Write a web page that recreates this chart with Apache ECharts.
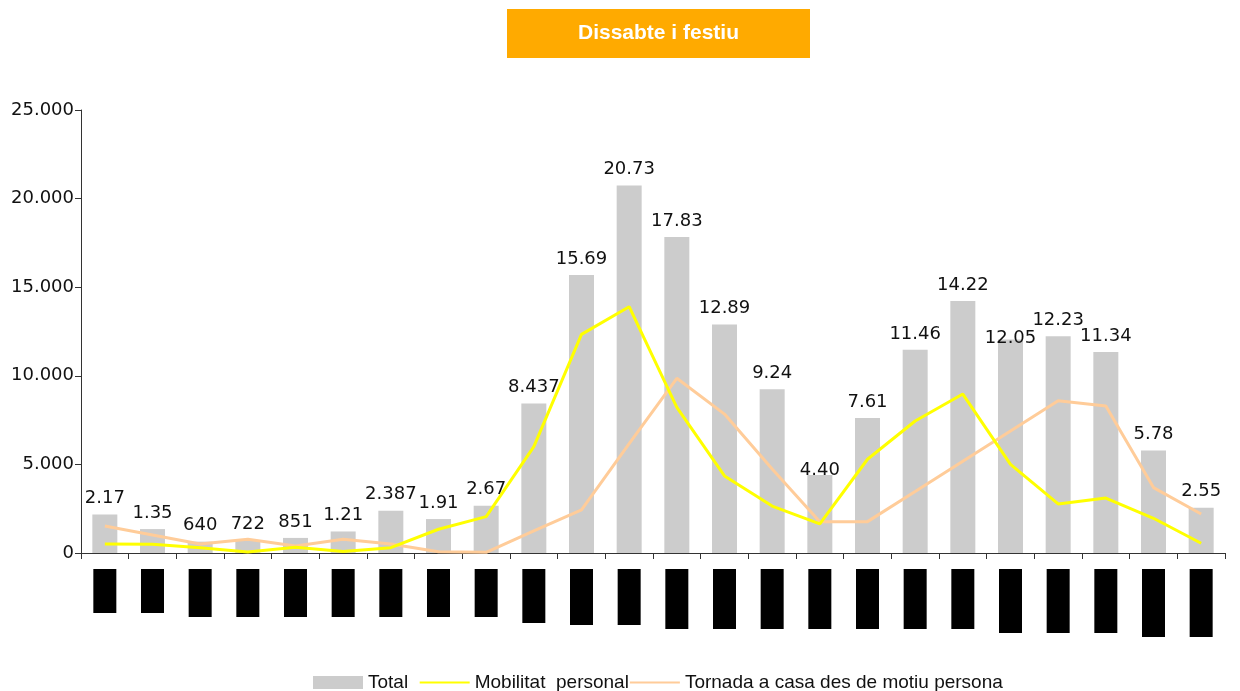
<!DOCTYPE html>
<html>
<head>
<meta charset="utf-8">
<script src="https://cdn.jsdelivr.net/npm/echarts@6/dist/echarts.min.js"></script>
<style>
html,body{margin:0;padding:0;background:#fff;}
#chart{width:1240px;height:691px;}
</style>
</head>
<body>
<div id="chart"></div>
<script>
// ---- data ----
const categories = ["0-1h","1-2h","2-3h","3-4h","4-5h","5-6h","6-7h","7-8h","8-9h","9-10h","10-11h","11-12h",
  "12-13h","13-14h","14-15h","15-16h","16-17h","17-18h","18-19h","19-20h","20-21h","21-22h","22-23h","23-24h"];
const totalValues = [2170,1350,640,722,851,1215,2387,1915,2672,8437,15695,20737,17835,12895,9240,4408,7615,11465,14225,12055,12235,11345,5780,2558];
const totalLabels = ["2.17","1.35","640","722","851","1.21","2.387","1.91","2.67","8.437","15.69","20.73","17.83","12.89","9.24","4.40","7.61","11.46","14.22","12.05","12.23","11.34","5.78","2.55"];
const mobilitatValues = [510,500,300,60,320,80,300,1340,2050,6000,12340,13900,8220,4350,2650,1640,5290,7450,8970,5000,2770,3100,1960,550];
const tornadaValues = [1520,1015,510,770,400,770,510,70,40,1250,2430,6170,9860,7840,4740,1770,1770,3470,5180,6890,8590,8300,3690,2200];
const yTicks = [0,5000,10000,15000,20000,25000];
const seriesNames = ["Total","Mobilitat  personal","Tornada a casa des de motiu personal"];
const titleText = "Dissabte i festiu";

// ---- helpers ----
const fmt = v => String(v).replace(/\B(?=(\d{3})+(?!\d))/g, ".");
const boxLen = i => i < 2 ? 44 : i < 9 ? 48 : i < 10 ? 54 : i < 12 ? 56 : i < 19 ? 60 : i < 22 ? 64 : 68;
const rich = {};
[44,48,54,56,60,64,68].forEach(L => {
  rich['b' + L] = {width: L, height: 23, lineHeight: 23, backgroundColor: '#000', color: '#000', fontSize: 10, align: 'center'};
});
const labelNudge = {15: [0, 11], 19: [0, 15]};

const chart = echarts.init(document.getElementById('chart'), null, {renderer: 'canvas'});
const option = {
  animation: false,
  backgroundColor: '#fff',
  title: {
    text: '{t|' + titleText + '}',
    left: 507, top: 9, padding: 0,
    textStyle: {
      rich: {
        t: {
          color: '#fff', fontFamily: 'Liberation Sans', fontWeight: 'bold', fontSize: 21,
          width: 303, height: 49, lineHeight: 49, align: 'center', backgroundColor: '#FFAA00'
        }
      }
    }
  },
  grid: {left: 81, right: 15, top: 110, bottom: 138},
  legend: {
    left: 313, top: 673, padding: 0,
    itemWidth: 50, itemHeight: 13, itemGap: 0,
    textStyle: {fontFamily: 'Liberation Sans', fontSize: 19, color: '#111'},
    formatter: name => name === seriesNames[0] ? name + '  ' : name,
    data: [
      {name: seriesNames[0], icon: 'rect'},
      {name: seriesNames[1], itemStyle: {opacity: 0}, lineStyle: {width: 2}},
      {name: seriesNames[2], itemStyle: {opacity: 0}, lineStyle: {width: 2}, textStyle: {width: 320, overflow: 'truncate', ellipsis: ''}}
    ]
  },
  xAxis: {
    type: 'category',
    data: categories,
    boundaryGap: true,
    axisLine: {show: true, lineStyle: {color: '#333', width: 1}},
    axisTick: {show: true, length: 6, alignWithLabel: false, interval: 0, lineStyle: {color: '#333'}},
    axisLabel: {
      interval: 0, rotate: 90, margin: 16,
      formatter: (v, i) => '{b' + boxLen(i) + '|' + v + '}',
      rich: rich
    },
    splitLine: {show: false}
  },
  yAxis: {
    type: 'value',
    min: yTicks[0], max: yTicks[yTicks.length - 1], interval: yTicks[1] - yTicks[0],
    axisLine: {show: true, lineStyle: {color: '#333', width: 1}},
    axisTick: {show: true, length: 6, lineStyle: {color: '#333'}},
    axisLabel: {formatter: v => fmt(v), fontFamily: 'DejaVu Sans', fontSize: 18, color: '#111', margin: 7},
    splitLine: {show: false}
  },
  series: [
    {
      name: seriesNames[0], type: 'bar', barWidth: 25,
      itemStyle: {color: '#CCCCCC'},
      data: totalValues.map((v, i) => {
        const d = {value: v};
        if (labelNudge[i]) d.label = {offset: labelNudge[i]};
        return d;
      }),
      label: {
        show: true, position: 'top', distance: 7,
        formatter: p => totalLabels[p.dataIndex],
        fontFamily: 'DejaVu Sans', fontSize: 18, color: '#111'
      },
      z: 1
    },
    {
      name: seriesNames[1], type: 'line', data: mobilitatValues,
      symbol: 'none', smooth: false,
      lineStyle: {color: '#FFFF00', width: 3},
      itemStyle: {color: '#FFFF00'},
      z: 3
    },
    {
      name: seriesNames[2], type: 'line', data: tornadaValues,
      symbol: 'none', smooth: false,
      lineStyle: {color: '#FFCC99', width: 3},
      itemStyle: {color: '#FFCC99'},
      z: 2
    }
  ]
};
chart.setOption(option);
</script>
</body>
</html>
